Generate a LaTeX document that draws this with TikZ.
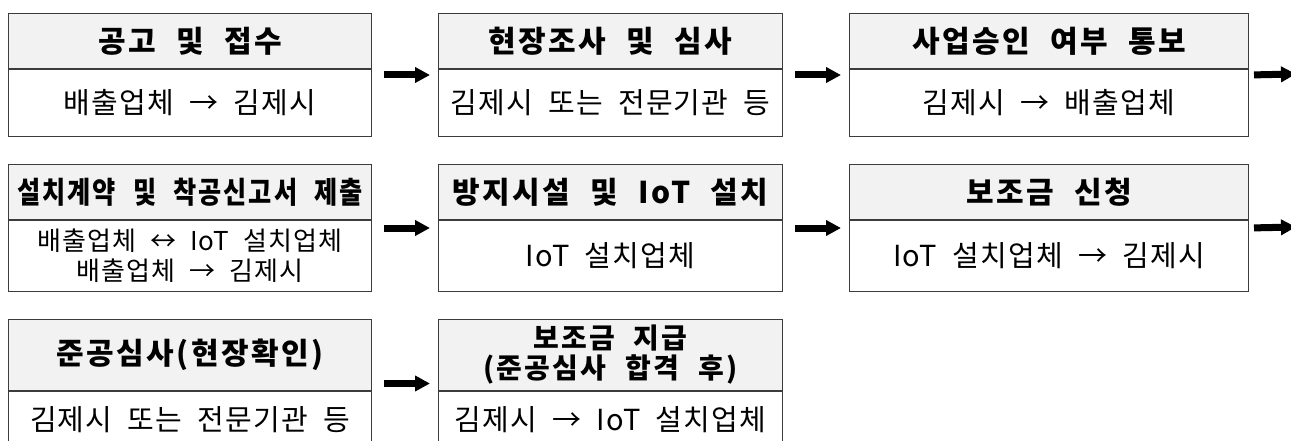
\documentclass[tikz,border=0pt]{standalone}
\usepackage{fontspec}
\usepackage{graphicx}
\setmainfont{Noto Sans CJK KR}[LetterSpace=4,WordSpace=2]
\newfontfamily\headfont{Noto Sans CJK KR}[LetterSpace=8,WordSpace=2.2]
\usetikzlibrary{arrows.meta,positioning,calc}
\definecolor{headgray}{HTML}{F2F2F2}
\definecolor{framegray}{HTML}{3C3C3C}
\begin{document}
\begin{tikzpicture}[x=1pt, y=-1pt, font=\fontsize{29}{33}\selectfont,
	head/.style={draw=framegray, line width=1pt, fill=headgray, inner sep=0pt,
		anchor=north west, align=center, font=\fontsize{30}{33}\selectfont\headfont\bfseries},
	body/.style={draw=framegray, line width=1pt, fill=white, inner sep=0pt,
		below=0pt of #1, align=center},
	flow/.style={line width=7pt, -{Triangle[length=15pt,width=15pt]},
		shorten <=12pt, shorten >=8pt}]
	\useasboundingbox (0,0) rectangle (1291,441);
	%row 1
	\node[head, minimum width=363pt, minimum height=55pt] (h1) at (8,13) {공고 및 접수};
	\node[body=h1, minimum width=363pt, minimum height=67pt] (b1) {배출업체 → 김제시};
	\node[head, minimum width=344pt, minimum height=55pt] (h2) at (438,13) {현장조사 및 심사};
	\node[body=h2, minimum width=344pt, minimum height=67pt] (b2) {김제시 또는 전문기관 등};
	\node[head, minimum width=399pt, minimum height=55pt] (h3) at (849,13) {사업승인 여부 통보};
	\node[body=h3, minimum width=399pt, minimum height=67pt] (b3) {김제시 → 배출업체};
	%row 2
	\node[head, minimum width=363pt, minimum height=55pt] (h4) at (8,164)
		{\scalebox{0.84}[1]{설치계약 및 착공신고서 제출}};
	\node[body=h4, minimum width=363pt, minimum height=71pt,
		font=\fontsize{26}{30}\selectfont] (b4) {배출업체 ↔ IoT 설치업체\\배출업체 → 김제시};
	\node[head, minimum width=344pt, minimum height=55pt] (h5) at (438,164) {방지시설 및 IoT 설치};
	\node[body=h5, minimum width=344pt, minimum height=71pt] (b5) {IoT 설치업체};
	\node[head, minimum width=399pt, minimum height=55pt] (h6) at (849,164) {보조금 신청};
	\node[body=h6, minimum width=399pt, minimum height=71pt] (b6) {IoT 설치업체 → 김제시};
	%row 3
	\node[head, minimum width=363pt, minimum height=71pt] (h7) at (8,319) {준공심사(현장확인)};
	\node[body=h7, minimum width=363pt, minimum height=56pt] (b7) {김제시 또는 전문기관 등};
	\node[head, minimum width=344pt, minimum height=71pt,
		font=\fontsize{28}{30}\selectfont\headfont\bfseries] (h8) at (438,319)
		{보조금 지급\\(준공심사 합격 후)};
	\node[body=h8, minimum width=344pt, minimum height=56pt] (b8) {김제시 → IoT 설치업체};
	%arrows
	\coordinate (out1) at (1296,74);
	\coordinate (out2) at (1296,227);
	\draw[flow] ($(h1.north east)!.5!(b1.south east)$) -- ($(h2.north west)!.5!(b2.south west)$);
	\draw[flow] ($(h2.north east)!.5!(b2.south east)$) -- ($(h3.north west)!.5!(b3.south west)$);
	\draw[flow, shorten <=5pt, shorten >=0pt] ($(h3.north east)!.5!(b3.south east)$) -- (out1);
	\draw[flow] ($(h4.north east)!.5!(b4.south east)$) -- ($(h5.north west)!.5!(b5.south west)$);
	\draw[flow] ($(h5.north east)!.5!(b5.south east)$) -- ($(h6.north west)!.5!(b6.south west)$);
	\draw[flow, shorten <=5pt, shorten >=0pt] ($(h6.north east)!.5!(b6.south east)$) -- (out2);
	\draw[flow] ($(h7.north east)!.5!(b7.south east)$) -- ($(h8.north west)!.5!(b8.south west)$);
\end{tikzpicture}
\end{document}
